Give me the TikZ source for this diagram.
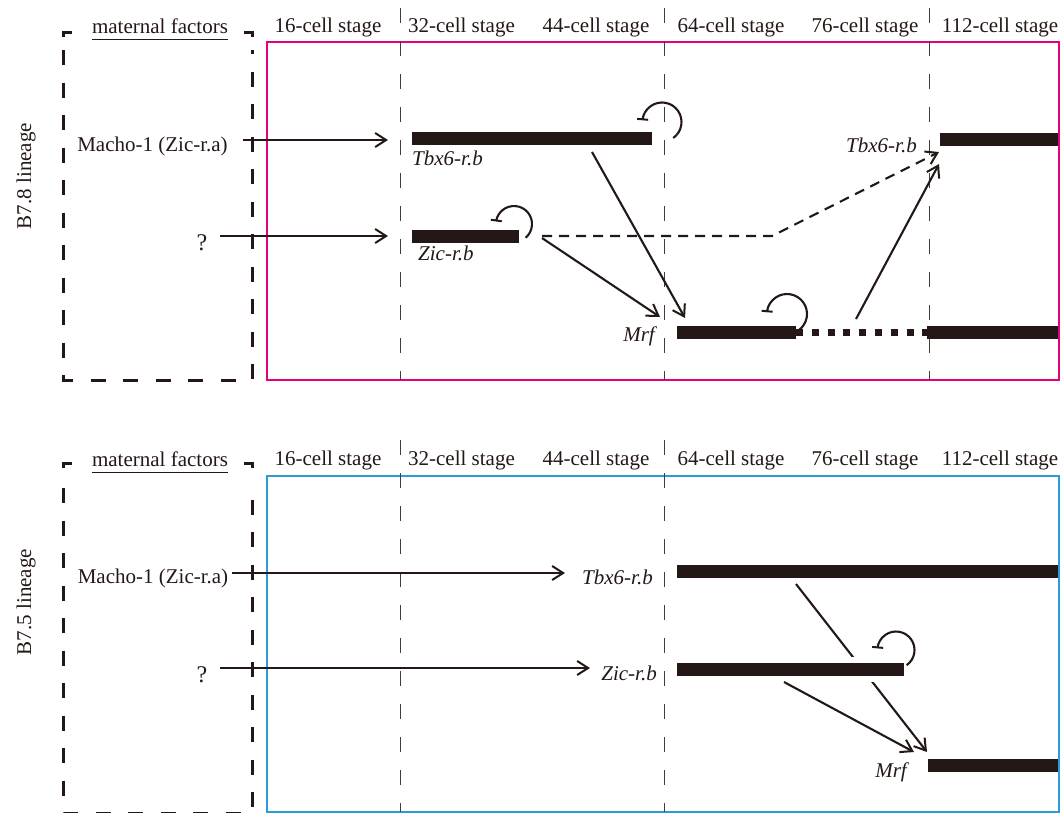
\documentclass[tikz,border=0pt]{standalone}
\usepackage{fontspec}
\setmainfont{Liberation Serif}
\usetikzlibrary{arrows.meta,calc}
\definecolor{ink}{HTML}{231815}
\definecolor{panelpink}{HTML}{E5007F}
\definecolor{panelblue}{HTML}{2C9CD9}

\begin{document}
\begin{tikzpicture}[x=1pt,y=1pt,yscale=-1,
  lbl/.style={font=\fontsize{21}{25}\selectfont, text=ink, inner sep=0pt},
  qlbl/.style={font=\fontsize{24}{28}\selectfont, text=ink, inner sep=0pt},
  gene/.style={font=\fontsize{21}{25}\selectfont\itshape, text=ink, inner sep=0pt},
  genebar/.style={rectangle, fill=ink, draw=none, inner sep=0pt, outer sep=0pt, minimum height=12.5pt},
  conn/.style={draw=ink, line width=2.1pt, -{Straight Barb[length=11pt,width=14pt,line width=2pt]}},
  dconn/.style={conn, dash pattern=on 10pt off 7pt},
  selfloop/.style={draw=ink, line width=2.1pt, -{Bar[width=11pt,line width=2pt]}},
  stageline/.style={draw=ink!85, line width=1pt, dash pattern=on 15pt off 18pt},
  matbox/.style={draw=ink, line width=3pt, dash pattern=on 15pt off 17.5pt},
  matcorner/.style={draw=ink, line width=3pt},
  dotbar/.style={draw=ink, line width=7pt, dash pattern=on 7pt off 8.8pt},
  panel/.style={line width=2.5pt}
]
\useasboundingbox (0,0) rectangle (1064,812);

% ---------------- upper panel: B7.8 lineage ----------------
\draw[panel, panelpink] (267,42) rectangle (1059,380);
\foreach \xx in {400,664,929} \draw[stageline] (\xx,8) -- (\xx,380);

\node[lbl, anchor=base] (s16a)  at (328,32)  {16-cell stage};
\node[lbl, anchor=base] (s32a)  at (461.5,32) {32-cell stage};
\node[lbl, anchor=base] (s44a)  at (596,32)  {44-cell stage};
\node[lbl, anchor=base] (s64a)  at (731,32)  {64-cell stage};
\node[lbl, anchor=base] (s76a)  at (865,32)  {76-cell stage};
\node[lbl, anchor=base] (s112a) at (1000,32) {112-cell stage};

% maternal factors box
\node[lbl, anchor=base] (mfA) at (160,33) {maternal factors};
\draw[ink, line width=1pt] ($(mfA.base west)+(0,6)$) -- ($(mfA.base east)+(0,6)$);
\draw[matcorner] (72,32) -- (63,32) -- (63,37);
\draw[matcorner] (244,32) -- (252,32) -- (252,37);
\draw[matbox] (63,50) -- (63,380) -- (252,380) -- (252,50);

\node[lbl, rotate=90, anchor=base] (linA) at (31,176) {B7.8 lineage};
\node[lbl, anchor=base] (machoA) at (152.5,151) {Macho-1 (Zic-r.a)};
\node[qlbl, anchor=base] (qA) at (202,250) {?};

% expression bars
\node[genebar, anchor=north west, minimum width=240pt] (t6a)  at (412,132) {};
\node[genebar, anchor=north west, minimum width=107pt] (zca)  at (412,230) {};
\node[genebar, anchor=north west, minimum width=119pt] (mra1) at (677,326) {};
\node[genebar, anchor=north west, minimum width=131pt] (mra2) at (927,326) {};
\node[genebar, anchor=north west, minimum width=118pt] (t6a2) at (940,133) {};
\draw[dotbar] (mra1.east) -- (mra2.west);

\node[gene, anchor=base west] (t6aL)  at (412,165) {Tbx6-r.b};
\node[gene, anchor=base west] (zcaL)  at (418,260) {Zic-r.b};
\node[gene, anchor=base east] (mraL)  at (655,341) {Mrf};
\node[gene, anchor=base east] (t6a2L) at (917,152) {Tbx6-r.b};

% connector end points
\coordinate (aM1) at (243,140);   \coordinate (aM2) at (388,140);
\coordinate (aQ1) at (220,236);   \coordinate (aQ2) at (388,236);
\coordinate (aT1) at (592,152);   \coordinate (aT2) at (685,318);
\coordinate (aZ1) at (542,238);   \coordinate (aZ2) at (660,317);
\coordinate (aD1) at (542,236);   \coordinate (aDk) at (772,236);
\coordinate (aD2) at (939,152);
\coordinate (aR1) at (856,319);   \coordinate (aR2) at (939,164);

\draw[conn] (aM1) -- (aM2);
\draw[conn] (aQ1) -- (aQ2);
\draw[conn] (aT1) -- (aT2);
\draw[conn] (aZ1) -- (aZ2);
\draw[dconn] (aD1) -- (aDk) -- (aD2);
\draw[conn] (aR1) -- (aR2);

% auto-regulation loops
\coordinate (loopT6a) at (662,122);
\coordinate (loopZca) at (514,224);
\coordinate (loopMra) at (787,314);
\draw[selfloop] (loopT6a) ++(55:19.5) arc[start angle=55, end angle=-175, radius=19.5];
\draw[selfloop] (loopZca) ++(50:18) arc[start angle=50, end angle=-172, radius=18];
\draw[selfloop] (loopMra) ++(55:20) arc[start angle=55, end angle=-175, radius=20];

% ---------------- lower panel: B7.5 lineage ----------------
\draw[panel, panelblue] (267,476) rectangle (1059,812.6);
\foreach \xx in {400,664} \draw[stageline] (\xx,440) -- (\xx,812);

\node[lbl, anchor=base] (s16b)  at (328,465)  {16-cell stage};
\node[lbl, anchor=base] (s32b)  at (461.5,465) {32-cell stage};
\node[lbl, anchor=base] (s44b)  at (596,465)  {44-cell stage};
\node[lbl, anchor=base] (s64b)  at (731,465)  {64-cell stage};
\node[lbl, anchor=base] (s76b)  at (865,465)  {76-cell stage};
\node[lbl, anchor=base] (s112b) at (1000,465) {112-cell stage};

\node[lbl, anchor=base] (mfB) at (160,466) {maternal factors};
\draw[ink, line width=1pt] ($(mfB.base west)+(0,6)$) -- ($(mfB.base east)+(0,6)$);
\draw[matcorner] (72,463) -- (63,463) -- (63,468);
\draw[matcorner] (244,463) -- (252,463) -- (252,468);
\draw[matbox] (63,488) -- (63,813) -- (252,813) -- (252,488);

\node[lbl, rotate=90, anchor=base] (linB) at (31,602) {B7.5 lineage};
\node[lbl, anchor=base] (machoB) at (153,583) {Macho-1 (Zic-r.a)};
\node[qlbl, anchor=base] (qB) at (202,682) {?};

\node[gene, anchor=base east] (t6bL) at (653,584) {Tbx6-r.b};
\node[gene, anchor=base east] (zcbL) at (657,680) {Zic-r.b};
\node[gene, anchor=base east] (mrbL) at (907,777) {Mrf};

\coordinate (bM1) at (232,573);   \coordinate (bM2) at (565,573);
\coordinate (bQ1) at (220,668);   \coordinate (bQ2) at (590,668);
\coordinate (bT1) at (796,584);   \coordinate (bT2) at (927,752);
\coordinate (bZ1) at (784,682);   \coordinate (bZ2) at (914,752);

\draw[conn] (bM1) -- (bM2);
\draw[conn] (bQ1) -- (bQ2);
\draw[conn] (bT1) -- (bT2);
\draw[conn] (bZ1) -- (bZ2);

% gap where the Tbx6-r.b arrow passes behind the Zic-r.b bar
\fill[white] (838,657) rectangle (884,682);

\node[genebar, anchor=north west, minimum width=381pt] (t6b) at (677,565) {};
\node[genebar, anchor=north west, minimum width=227pt] (zcb) at (677,663) {};
\node[genebar, anchor=north west, minimum width=130pt] (mrb) at (928,759) {};

\coordinate (loopZcb) at (896,650);
\draw[selfloop] (loopZcb) ++(55:18.5) arc[start angle=55, end angle=-175, radius=18.5];
\end{tikzpicture}
\end{document}
